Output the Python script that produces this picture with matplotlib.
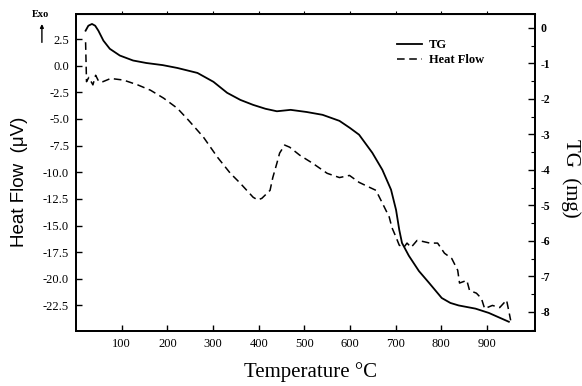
import matplotlib
matplotlib.use('Agg')
import matplotlib.pyplot as plt
from matplotlib.patches import FancyArrowPatch

plt.rcParams['font.family'] = ['Liberation Serif', 'DejaVu Serif']
plt.rcParams['axes.unicode_minus'] = False

# TG curve (mg) vs temperature
tg_temp = [21, 27, 35, 42, 49, 60, 74, 96, 125, 154, 190, 222, 266, 301, 331,
           360, 388, 415, 440, 455, 470, 505, 540, 577, 600, 620, 649, 671, 690,
           701, 708, 714, 729, 751, 773, 801, 820, 838, 875, 904, 948]
tg_mass = [-0.08, 0.06, 0.11, 0.06, -0.08, -0.36, -0.59, -0.78, -0.92, -0.99,
           -1.05, -1.13, -1.27, -1.52, -1.83, -2.03, -2.17, -2.28, -2.35, -2.33,
           -2.31, -2.37, -2.45, -2.62, -2.82, -3.01, -3.52, -4.00, -4.56, -5.13,
           -5.69, -6.06, -6.42, -6.85, -7.18, -7.61, -7.75, -7.82, -7.91, -8.03,
           -8.28]

# Heat flow curve (uV) vs temperature
hf_temp = [21, 23, 28, 37, 43, 50, 59, 76, 104, 135, 163, 192, 222, 246, 279,
           310, 338, 359, 388, 398, 407, 425, 431, 440, 446, 457, 468, 490, 518,
           550, 577, 599, 620, 642, 657, 671, 686, 692, 701, 708, 718, 725, 734,
           747, 760, 775, 792, 807, 823, 836, 840, 856, 862, 877, 888, 895, 912,
           928, 943, 949, 952]
hf_val = [2.2, -1.5, -1.1, -1.8, -0.9, -1.5, -1.5, -1.2, -1.35, -1.8, -2.3, -3.05,
          -4.0, -5.1, -6.7, -8.6, -10.1, -11.0, -12.35, -12.6, -12.45, -11.7,
          -10.5, -9.15, -8.2, -7.45, -7.65, -8.4, -9.15, -10.1, -10.5, -10.3,
          -10.95, -11.4, -11.7, -12.9, -14.2, -15.2, -16.1, -16.85, -17.05,
          -16.65, -17.05, -16.4, -16.5, -16.65, -16.65, -17.6, -18.1, -19.2,
          -20.4, -20.15, -21.1, -21.35, -21.85, -22.8, -22.5, -22.7, -22.0,
          -23.25, -23.9]

x_ticks = [100, 200, 300, 400, 500, 600, 700, 800, 900]
hf_ticks = [2.5, 0.0, -2.5, -5.0, -7.5, -10.0, -12.5, -15.0, -17.5, -20.0, -22.5]
tg_ticks = [0, -1, -2, -3, -4, -5, -6, -7, -8]

fig = plt.figure(figsize=(5.82, 3.86), dpi=100)
ax = fig.add_axes([0.1306, 0.1425, 0.7884, 0.8212])
ax2 = ax.twinx()

hf_line, = ax.plot(hf_temp, hf_val, color='black', lw=1.1, ls=(0, (5, 3)))
tg_line, = ax2.plot(tg_temp, tg_mass, color='black', lw=1.3)

ax.set_xlim(0, 1005)
ax.set_ylim(-24.9, 4.85)
ax2.set_ylim(-8.54, 0.39)

ax.set_xticks(x_ticks)
ax.set_xticklabels([str(t) for t in x_ticks], fontsize=9)
ax.set_yticks(hf_ticks)
ax.set_yticklabels([f'{v:.1f}' for v in hf_ticks], fontsize=9)
ax2.set_yticks(tg_ticks)
ax2.set_yticklabels([str(v) for v in tg_ticks], fontsize=8.5, fontweight='bold')
ax2.set_yticks([v - 0.5 for v in tg_ticks], minor=True)

ax.tick_params(axis='both', direction='in', length=4, width=1.0, pad=5)
ax2.tick_params(axis='y', which='major', direction='in', length=5, width=1.0, pad=4)
ax2.tick_params(axis='y', which='minor', direction='in', length=3, width=0.8)

top = ax.secondary_xaxis('top')
top.set_xticks(x_ticks)
top.tick_params(direction='out', length=2.5, labeltop=False)

for a in (ax, ax2):
    for s in a.spines.values():
        s.set_linewidth(1.3)

fig.text(0.034, 0.528, 'Heat Flow  (μV)', fontsize=13.5, rotation=90,
         ha='center', va='center', family=['Liberation Sans', 'DejaVu Sans'])
fig.text(0.981, 0.539, 'TG  (mg)', fontsize=15, rotation=270,
         ha='center', va='center')
fig.text(0.533, 0.036, 'Temperature °C', fontsize=15, ha='center', va='center')

ax2.legend([tg_line, hf_line], ['TG', 'Heat Flow'], loc='upper left',
           bbox_to_anchor=(0.688, 0.937), borderaxespad=0, frameon=False,
           prop={'size': 9, 'weight': 'bold'},
           handlelength=2.0, labelspacing=0.28, handletextpad=0.6)

fig.text(0.055, 0.975, 'Exo', fontsize=7.5, fontweight='bold', ha='left', va='top')
fig.add_artist(FancyArrowPatch((0.072, 0.883), (0.072, 0.945),
               transform=fig.transFigure, arrowstyle='-|>', mutation_scale=5,
               color='black', lw=1.0))

fig.savefig('out.png', dpi=100, facecolor='white')
